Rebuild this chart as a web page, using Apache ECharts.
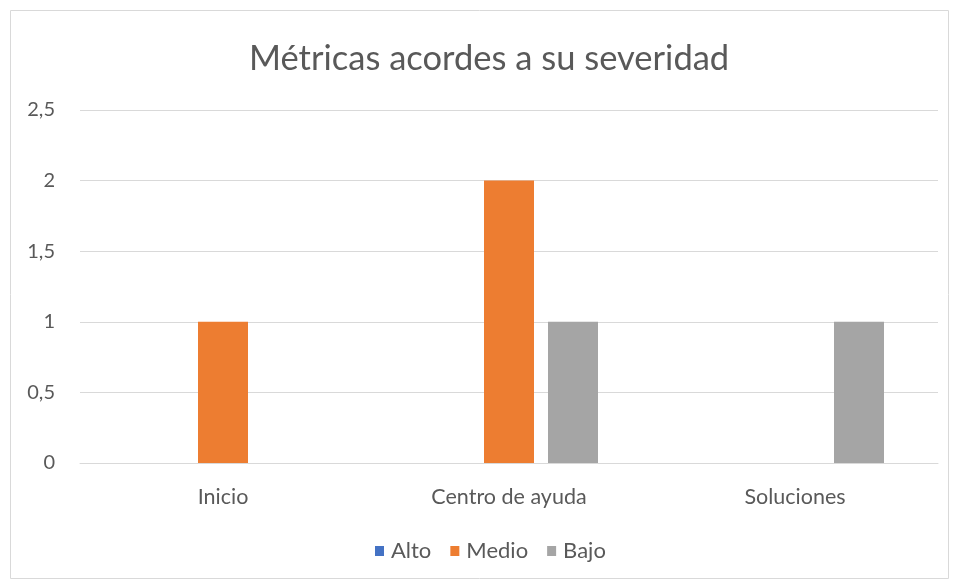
<!DOCTYPE html>
<html>
<head>
<meta charset="utf-8">
<script src="https://cdn.jsdelivr.net/npm/echarts@6/dist/echarts.min.js"></script>
<style>
html,body{margin:0;padding:0;background:#fff;}
#c{width:956px;height:581px;}
</style>
</head>
<body>
<div id="c"></div>
<script>
const categories = ['Inicio', 'Centro de ayuda', 'Soluciones'];
const seriesNames = ['Alto', 'Medio', 'Bajo'];
const alto = [0, 0, 0];
const medio = [1, 2, 0];
const bajo = [0, 1, 1];
const colors = ['#4472C4', '#ED7D31', '#A5A5A5'];
const font = 'Lato, "Open Sans", sans-serif';

const chart = echarts.init(document.getElementById('c'), null, {renderer: 'canvas'});
const values = [alto, medio, bajo];
chart.setOption({
  animation: false,
  color: colors,
  graphic: [{
    type: 'rect', shape: {x: 10.5, y: 10.5, width: 938, height: 568},
    style: {fill: 'none', stroke: '#D9D9D9', lineWidth: 1}, silent: true, z: -1
  }],
  title: {
    text: 'Métricas acordes a su severidad',
    left: 244, top: 36,
    textStyle: {fontFamily: font, fontSize: 34.5, fontWeight: 'normal', color: '#595959'}
  },
  legend: {
    top: 535, left: 370,
    icon: 'rect', itemWidth: 9, itemHeight: 10, itemGap: 19,
    textStyle: {fontFamily: font, fontSize: 22, color: '#595959', padding: [0, 0, 0, 2]},
    data: seriesNames
  },
  grid: {left: 80, right: 18, top: 110, bottom: 118, containLabel: false},
  xAxis: {
    type: 'category', data: categories,
    axisLine: {lineStyle: {color: '#D9D9D9', width: 1}},
    axisTick: {show: false},
    axisLabel: {fontFamily: font, fontSize: 21.5, color: '#595959', margin: 23}
  },
  yAxis: {
    type: 'value', min: 0, max: 2.5, interval: 0.5,
    axisLine: {show: false}, axisTick: {show: false},
    splitLine: {lineStyle: {color: '#D9D9D9', width: 1}},
    axisLabel: {fontFamily: font, fontSize: 20, color: '#595959', margin: 25,
      formatter: v => String(v).replace('.', ',')}
  },
  series: seriesNames.map((n, i) => ({
    name: n, type: 'bar', data: values[i], barWidth: 50, barGap: '28%'
  }))
});
</script>
</body>
</html>
